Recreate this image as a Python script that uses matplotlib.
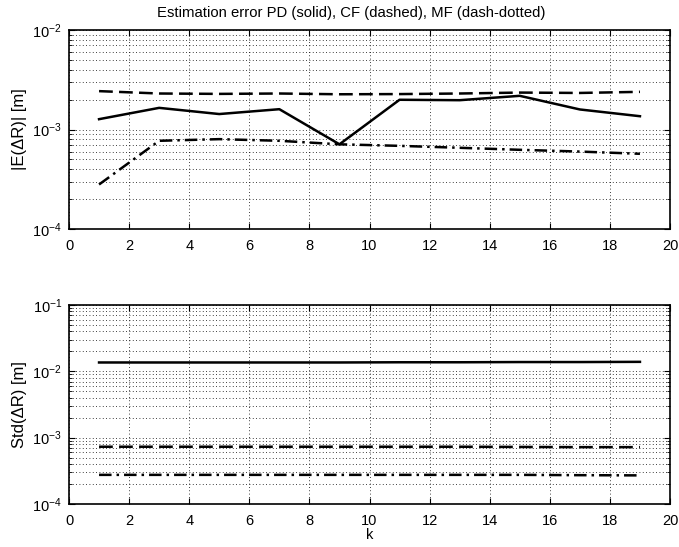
import numpy as np
import matplotlib.pyplot as plt
from matplotlib.ticker import LogLocator, NullFormatter

plt.rcParams['font.family'] = ['Liberation Sans', 'DejaVu Sans']

k = np.arange(1, 20, 2)

# mean error |E(dR)|
mean_pd = [1.27e-3, 1.65e-3, 1.43e-3, 1.60e-3, 0.71e-3,
           1.99e-3, 1.97e-3, 2.18e-3, 1.59e-3, 1.36e-3]
mean_cf = [2.43e-3, 2.30e-3, 2.28e-3, 2.30e-3, 2.26e-3,
           2.27e-3, 2.30e-3, 2.35e-3, 2.33e-3, 2.39e-3]
mean_mf = [2.8e-4, 7.7e-4, 8.0e-4, 7.7e-4, 7.1e-4,
           6.85e-4, 6.55e-4, 6.25e-4, 6.0e-4, 5.7e-4]

# standard deviation Std(dR)
std_pd = [1.36e-2, 1.36e-2, 1.36e-2, 1.36e-2, 1.36e-2,
          1.37e-2, 1.37e-2, 1.38e-2, 1.38e-2, 1.39e-2]
std_cf = [7.3e-4, 7.3e-4, 7.3e-4, 7.3e-4, 7.3e-4,
          7.3e-4, 7.3e-4, 7.25e-4, 7.2e-4, 7.2e-4]
std_mf = [2.75e-4, 2.75e-4, 2.75e-4, 2.75e-4, 2.75e-4,
          2.75e-4, 2.75e-4, 2.75e-4, 2.72e-4, 2.7e-4]

fig = plt.figure(figsize=(6.79, 5.47), dpi=100)
ax1 = fig.add_axes([69 / 679, 1 - 229 / 547, 601 / 679, 199 / 547])
ax2 = fig.add_axes([69 / 679, 1 - 504 / 547, 601 / 679, 199 / 547])


def style(ax, ylim):
    ax.set_yscale('log')
    ax.set_xlim(0, 20)
    ax.set_ylim(*ylim)
    ax.set_xticks(range(0, 21, 2))
    ax.yaxis.set_major_locator(LogLocator(base=10, numticks=10))
    ax.yaxis.set_minor_locator(LogLocator(base=10, subs=np.arange(2, 10), numticks=10))
    ax.yaxis.set_minor_formatter(NullFormatter())
    ax.grid(True, which='major', axis='x', color='k', linestyle=(0, (1, 3)), linewidth=0.6)
    ax.grid(True, which='both', axis='y', color='k', linestyle=(0, (1, 3)), linewidth=0.6)
    ax.tick_params(which='both', direction='in', top=True, right=True, labelsize=10.5)
    ax.tick_params(which='major', length=4)
    ax.tick_params(which='minor', length=2)
    ax.tick_params(axis='x', pad=7)
    ax.tick_params(axis='y', pad=5)
    for s in ax.spines.values():
        s.set_linewidth(1.2)


kw = dict(color='k', linewidth=1.8)
dashed = (0, (5.5, 2.5))
dashdot = (0, (5, 2, 1, 2))

ax1.plot(k, mean_pd, linestyle='-', **kw)
ax1.plot(k, mean_cf, linestyle=dashed, **kw)
ax1.plot(k, mean_mf, linestyle=dashdot, **kw)
style(ax1, (1e-4, 1e-2))
ax1.set_ylabel('|E(ΔR)| [m]', fontsize=12)
fig.text(351 / 679, 1 - 13 / 547, 'Estimation error PD (solid), CF (dashed), MF (dash-dotted)',
         fontsize=10.7, ha='center', va='center')

ax2.plot(k, std_pd, linestyle='-', **kw)
ax2.plot(k, std_cf, linestyle=dashed, **kw)
ax2.plot(k, std_mf, linestyle=dashdot, **kw)
style(ax2, (1e-4, 1e-1))
ax2.set_ylabel('Std(ΔR) [m]', fontsize=12)
ax2.set_xlabel('k', fontsize=10.5, labelpad=0)

fig.savefig('out.png', dpi=100)
